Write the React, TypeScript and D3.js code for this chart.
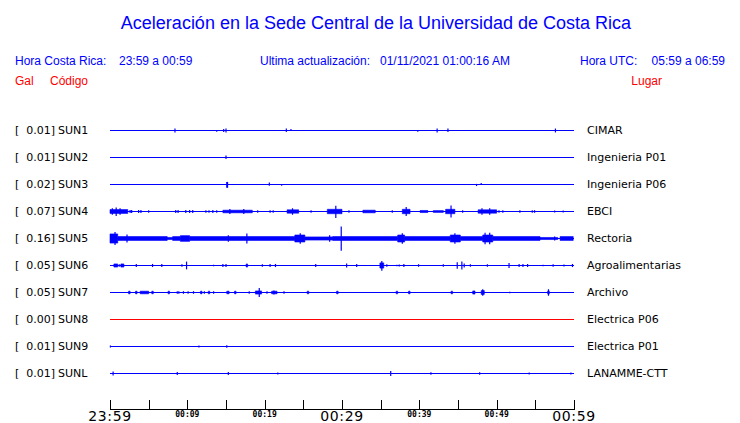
import React from "react";
import * as d3 from "d3";

// ---- data ----
const stations = ["SUN1", "SUN2", "SUN3", "SUN4", "SUN5", "SUN6", "SUN7", "SUN8", "SUN9", "SUNL"];
const peakGal = ["0.01", "0.01", "0.02", "0.07", "0.16", "0.05", "0.05", "0.00", "0.01", "0.01"];
const places = ["CIMAR", "Ingenieria P01", "Ingenieria P06", "EBCI", "Rectoria", "Agroalimentarias", "Archivo", "Electrica P06", "Electrica P01", "LANAMME-CTT"];
const traceColors = ["blue", "blue", "blue", "blue", "blue", "blue", "blue", "red", "blue", "blue"];

// time axis (minutes after 23:59)
const tickMinutes = [0, 5, 10, 15, 20, 25, 30, 35, 40, 45, 50, 55, 60];
const labelMinutes = [0, 10, 20, 30, 40, 50, 60];
const labelTexts = ["23:59", "00:09", "00:19", "00:29", "00:39", "00:49", "00:59"];
const majorLabels = [true, false, false, true, false, false, true];

// spikes: [minute, amplitude up, amplitude down] (relative, 1 = full row)
const sun1Spikes = [[8.4, 0.15, 0.15], [13.8, 0, 0.1], [14.7, 0.12, 0.12], [15.0, 0.15, 0.15], [22.8, 0.15, 0.12], [23.4, 0.12, 0], [39.8, 0, 0.1], [42.3, 0.15, 0.15], [43.7, 0.15, 0.12], [57.6, 0.15, 0.15]];
const sun2Spikes = [[15.0, 0.15, 0.12]];
const sun3Spikes = [[15.1, 0.2, 0.25], [15.2, 0.2, 0.25], [20.6, 0.15, 0.1], [22.2, 0, 0.1], [47.4, 0, 0.12], [48.0, 0.12, 0]];
const sun4Spikes = [[0.3, 0.25, 0.25], [0.8, 0.3, 0.35], [1.3, 0.25, 0.25], [2.6, 0.12, 0.12], [2.8, 0.12, 0.12], [3.7, 0.12, 0.12], [4.0, 0.12, 0.12], [5.0, 0.1, 0.1], [8.5, 0.12, 0.12], [8.8, 0.12, 0.12], [9.8, 0.12, 0.12], [10.3, 0.12, 0.12], [10.7, 0.12, 0.12], [12.4, 0.1, 0.1], [12.8, 0.1, 0.1], [13.3, 0.12, 0.12], [13.8, 0.1, 0.1], [15.5, 0.2, 0.2], [17.3, 0.2, 0.2], [19.1, 0.1, 0.1], [20.7, 0.1, 0.1], [21.1, 0.1, 0.1], [23.6, 0.25, 0.25], [26.0, 0.1, 0.1], [29.2, 0.45, 0.5], [30.9, 0.1, 0.1], [36.5, 0.1, 0.1], [38.3, 0.35, 0.35], [44.1, 0.46, 0.46], [45.6, 0.1, 0.1], [48.1, 0.25, 0.25], [49.1, 0.25, 0.25], [50.3, 0.1, 0.1], [50.8, 0.1, 0.1], [53.0, 0.1, 0.1], [54.6, 0.1, 0.1], [54.9, 0.1, 0.1], [57.5, 0.08, 0.08], [58.6, 0.08, 0.08]];
const sun5Spikes = [[0.65, 0.5, 0.5], [2.2, 0.3, 0.3], [15.3, 0.25, 0.25], [17.7, 0.38, 0.38], [24.6, 0.4, 0.4], [28.4, 0.25, 0.25], [29.9, 0.92, 0.95], [37.8, 0.4, 0.4], [44.6, 0.4, 0.4], [48.5, 0.45, 0.45], [49.1, 0.45, 0.45], [57.5, 0.15, 0.15]];
const sun6Spikes = [[1.2, 0.1, 0.1], [3.4, 0.12, 0.12], [5.5, 0.12, 0.12], [6.7, 0.12, 0.12], [9.3, 0.1, 0.1], [9.9, 0.3, 0.3], [13.4, 0.05, 0.05], [14.6, 0.12, 0.12], [15.0, 0.12, 0.12], [19.7, 0.1, 0.1], [20.7, 0.12, 0.12], [21.4, 0.12, 0.12], [26.6, 0.12, 0.12], [30.6, 0.15, 0.15], [31.9, 0.12, 0.12], [35.15, 0.35, 0.4], [35.8, 0.1, 0.1], [37.1, 0.05, 0.05], [37.4, 0.08, 0.08], [38.0, 0.12, 0.12], [39.9, 0.1, 0.1], [43.1, 0.1, 0.1], [44.9, 0.25, 0.25], [45.5, 0.3, 0.3], [45.8, 0.15, 0.15], [46.6, 0.1, 0.1], [48.8, 0.1, 0.1], [51.6, 0.2, 0.2], [52.9, 0.12, 0.12], [53.4, 0.12, 0.12], [54.0, 0.12, 0.12], [56.0, 0.05, 0.05], [57.3, 0.1, 0.1], [58.7, 0.08, 0.08], [59.8, 0.12, 0.12]];
const sun7Spikes = [[8.7, 0.1, 0.1], [8.9, 0.1, 0.1], [9.5, 0.1, 0.1], [10.1, 0.1, 0.1], [10.8, 0.1, 0.1], [12.2, 0.1, 0.1], [13.4, 0.1, 0.1], [18.0, 0.1, 0.1], [19.3, 0.35, 0.35], [20.3, 0.1, 0.1], [21.2, 0.15, 0.15], [22.5, 0.1, 0.1], [48.2, 0.25, 0.25], [51.7, 0.05, 0.05], [56.7, 0.25, 0.25]];
const sun8Spikes = [];
const sun9Spikes = [[0.05, 0.08, 0.08], [11.5, 0.08, 0.08], [15.1, 0.1, 0.1]];
const sunlSpikes = [[0.4, 0.15, 0.15], [8.7, 0.12, 0.12], [15.3, 0.12, 0.12], [21.7, 0.08, 0.08], [36.3, 0.2, 0.2], [41.5, 0.1, 0.1], [47.8, 0.1, 0.1], [54.2, 0.08, 0.08], [59.6, 0.08, 0.08]];

// bands of continuous noise: [start minute, end minute, amplitude]
const sun1Bands = [];
const sun2Bands = [];
const sun3Bands = [];
const sun4Bands = [[0, 2.3, 0.15], [14.6, 18.4, 0.1], [22.9, 24.4, 0.13], [28.1, 30.0, 0.17], [32.7, 34.3, 0.1], [37.8, 38.8, 0.17], [40.1, 41.1, 0.08], [41.8, 43.1, 0.07], [43.4, 44.6, 0.17], [47.6, 50.0, 0.13]];
const sun5Bands = [[0, 1.0, 0.35], [1.0, 7.4, 0.15], [7.4, 8.1, 0.08], [8.1, 9.1, 0.15], [9.1, 10.3, 0.22], [10.3, 23.9, 0.15], [23.9, 25.2, 0.27], [25.2, 28.8, 0.12], [28.8, 37.2, 0.15], [37.2, 38.1, 0.27], [38.1, 44.0, 0.15], [44.0, 45.3, 0.27], [45.3, 48.2, 0.15], [48.2, 49.5, 0.27], [49.5, 55.6, 0.15], [55.6, 57.9, 0.08], [58.2, 59.9, 0.15]];
const sun6Bands = [[0.5, 1.0, 0.12], [1.4, 1.8, 0.12], [17.6, 17.8, 0.12], [34.9, 35.4, 0.2]];
const sun7Bands = [[2.4, 2.6, 0.1], [3.3, 3.5, 0.1], [3.9, 5.0, 0.1], [5.4, 5.6, 0.1], [7.5, 7.7, 0.1], [11.7, 11.9, 0.1], [12.7, 12.9, 0.1], [15.1, 15.4, 0.1], [16.1, 16.3, 0.1], [18.8, 19.6, 0.12], [20.9, 21.6, 0.1], [25.5, 25.7, 0.1], [29.3, 29.5, 0.1], [37.0, 37.2, 0.1], [38.6, 38.8, 0.1], [44.1, 44.3, 0.1], [46.9, 47.2, 0.12], [48.0, 48.4, 0.15], [56.6, 56.8, 0.12]];
const sun8Bands = [];
const sun9Bands = [];
const sunlBands = [];

const allSpikes = [sun1Spikes, sun2Spikes, sun3Spikes, sun4Spikes, sun5Spikes, sun6Spikes, sun7Spikes, sun8Spikes, sun9Spikes, sunlSpikes];
const allBands = [sun1Bands, sun2Bands, sun3Bands, sun4Bands, sun5Bands, sun6Bands, sun7Bands, sun8Bands, sun9Bands, sunlBands];

// ---- layout ----
const W = 740;
const H = 423;
const HEAD_FONT = "'Liberation Sans', Arial, Helvetica, sans-serif";
const LABEL_FONT = "'DejaVu Sans', Verdana, sans-serif";

export default function App() {
  const x = d3.scaleLinear().domain([0, 60]).range([110, 574]);
  const rowY = d3.scalePoint<string>().domain(stations).range([130.5, 373.5]);
  const amp = d3.scaleLinear().domain([0, 1]).range([0, 13]);
  const line = d3.line<[number, number]>().x((d) => d[0]).y((d) => d[1]);
  const area = d3
    .area<[number, number, number]>()
    .x((d) => d[0])
    .y0((d) => d[1])
    .y1((d) => d[2]);

  return (
    <svg
      width={W}
      height={H}
      style={{ position: "absolute", left: 0, top: 0, background: "#fff" }}
    >
      <rect width={W} height={H} fill="#fff" />
      <text x={376} y={29} textAnchor="middle" fill="blue" fontFamily={HEAD_FONT} fontSize={18}>
        Aceleración en la Sede Central de la Universidad de Costa Rica
      </text>
      <g fontFamily={HEAD_FONT} fontSize={12} fill="blue">
        <text x={15} y={65}>Hora Costa Rica:</text>
        <text x={119} y={65}>23:59 a 00:59</text>
        <text x={260} y={65}>Ultima actualización:</text>
        <text x={380} y={65}>01/11/2021 01:00:16 AM</text>
        <text x={580} y={65}>Hora UTC:</text>
        <text x={725} y={65} textAnchor="end">05:59 a 06:59</text>
      </g>
      <g fontFamily={HEAD_FONT} fontSize={12} fill="red">
        <text x={15} y={85}>Gal</text>
        <text x={50} y={85}>Código</text>
        <text x={662} y={85} textAnchor="end">Lugar</text>
      </g>

      {stations.map((s, i) => {
        const cy = rowY(s) as number;
        const color = traceColors[i];
        const base = line([
          [x(0), cy],
          [x(60), cy],
        ]) as string;
        return (
          <g key={s}>
            <g fontFamily={LABEL_FONT} fontSize={11} fill="#000">
              <text x={15} y={cy + 3.5}>[</text>
              <text x={55} y={cy + 3.5} textAnchor="end">{peakGal[i]}]</text>
              <text x={58} y={cy + 3.5}>{s}</text>
              <text x={587} y={cy + 3.5}>{places[i]}</text>
            </g>
            <path d={base} stroke={color} strokeWidth={1.2} fill="none" />
            {allBands[i].map((b, j) => (
              <path
                key={"b" + j}
                d={
                  area([
                    [x(b[0]), cy - amp(b[2]), cy + amp(b[2])],
                    [x(b[1]), cy - amp(b[2]), cy + amp(b[2])],
                  ]) as string
                }
                fill={color}
                stroke={color}
                strokeWidth={0.6}
              />
            ))}
            {allSpikes[i].map((p, j) => (
              <path
                key={"s" + j}
                d={
                  line([
                    [x(p[0]), cy - Math.max(amp(p[1]), 0.6)],
                    [x(p[0]), cy + Math.max(amp(p[2]), 0.6)],
                  ]) as string
                }
                stroke={color}
                strokeWidth={1.2}
              />
            ))}
          </g>
        );
      })}

      <g>
        <path
          d={line([
            [x(0), 409.5],
            [x(60), 409.5],
          ]) as string}
          stroke="#000"
          strokeWidth={1}
        />
        {tickMinutes.map((m) => (
          <path
            key={m}
            d={line([
              [Math.round(x(m)) + 0.5, 400],
              [Math.round(x(m)) + 0.5, 410],
            ]) as string}
            stroke="#000"
            strokeWidth={1}
          />
        ))}
        {labelMinutes.map((m, i) =>
          majorLabels[i] ? (
            <text
              key={m}
              x={x(m)}
              y={421}
              textAnchor="middle"
              fontFamily={LABEL_FONT}
              fontSize={14}
              letterSpacing={0.6}
            >
              {labelTexts[i]}
            </text>
          ) : (
            <text
              key={m}
              x={x(m)}
              y={417}
              textAnchor="middle"
              fontFamily="'DejaVu Sans Mono', monospace"
              fontWeight="bold"
              fontSize={8}
            >
              {labelTexts[i]}
            </text>
          )
        )}
      </g>
    </svg>
  );
}
